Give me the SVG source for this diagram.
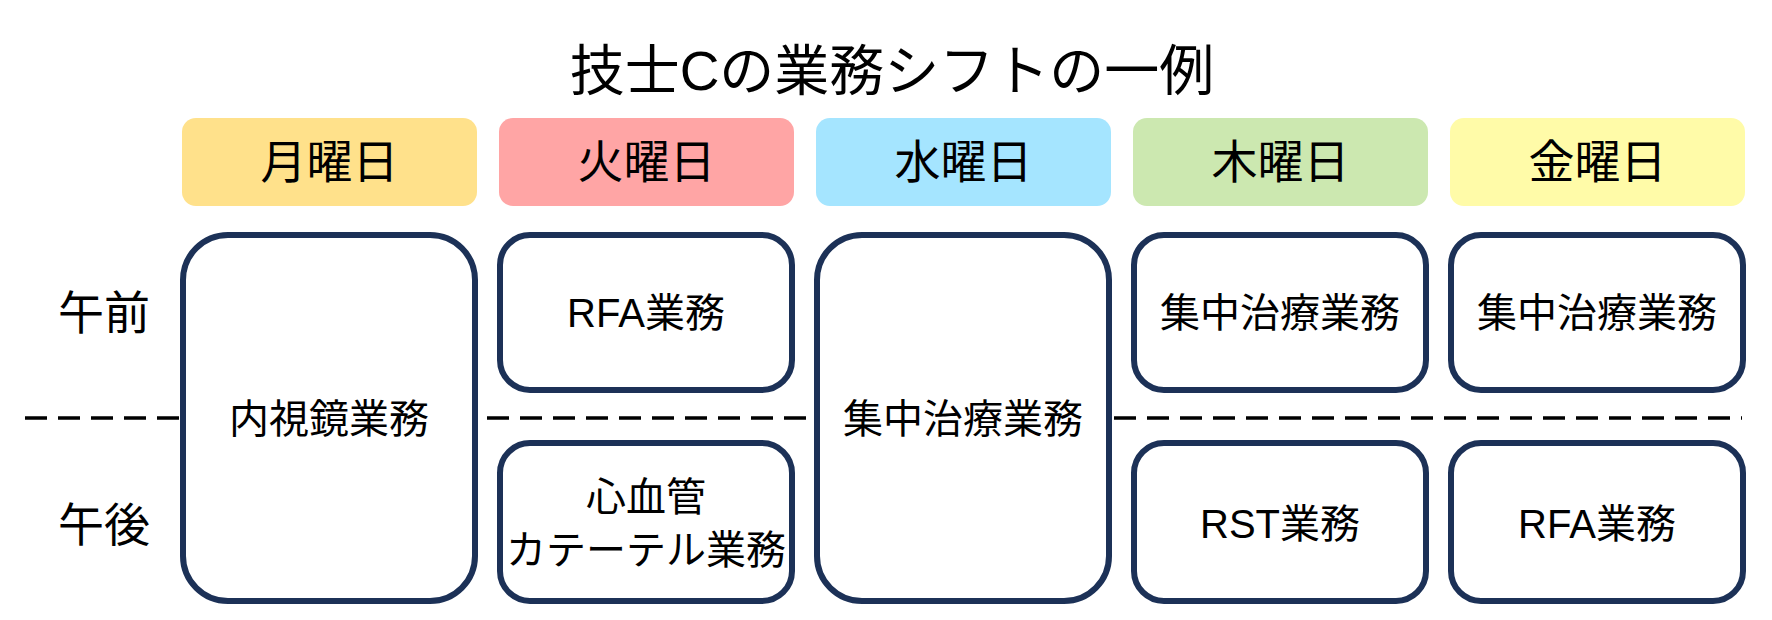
<svg xmlns="http://www.w3.org/2000/svg" width="1772" height="620" viewBox="0 0 1772 620">
<style>
text{font-family:"Liberation Sans","Noto Sans CJK JP",sans-serif;fill:#000;text-anchor:middle;dominant-baseline:central}
.title{font-size:55px}
.hd{font-size:46px}
.side{font-size:46px}
.nt{font-size:40px}
.hdr{stroke:none}
.box{fill:#fff;stroke:#1c3157;stroke-width:6}
.sep{stroke:#000;stroke-width:3.5;stroke-dasharray:22 11;fill:none}
</style>
<rect width="1772" height="620" fill="#fff"/>
<text class="title" x="892" y="71">技士Cの業務シフトの一例</text>
<g id="headers">
<g id="h-mon"><rect class="hdr" x="182" y="118" width="295" height="88" rx="14" fill="#FFE18B"/><text class="hd" x="329.5" y="162">月曜日</text></g>
<g id="h-tue"><rect class="hdr" x="499" y="118" width="295" height="88" rx="14" fill="#FFA5A5"/><text class="hd" x="646.5" y="162">火曜日</text></g>
<g id="h-wed"><rect class="hdr" x="816" y="118" width="295" height="88" rx="14" fill="#A5E5FF"/><text class="hd" x="963.5" y="162">水曜日</text></g>
<g id="h-thu"><rect class="hdr" x="1133" y="118" width="295" height="88" rx="14" fill="#CCE8B0"/><text class="hd" x="1280.5" y="162">木曜日</text></g>
<g id="h-fri"><rect class="hdr" x="1450" y="118" width="295" height="88" rx="14" fill="#FFFBA8"/><text class="hd" x="1597.5" y="162">金曜日</text></g>
</g>
<g id="side-labels">
<text class="side" x="104" y="313">午前</text>
<text class="side" x="104" y="525">午後</text>
</g>
<g id="connectors">
<line class="sep" x1="25" y1="418" x2="1742" y2="418"/>
</g>
<g id="mon"><rect class="box" x="183" y="235" width="292" height="366" rx="45"/><text class="nt" x="329" y="419">内視鏡業務</text></g>
<g id="tue-am"><rect class="box" x="500" y="235" width="292" height="155" rx="30"/><text class="nt" x="646" y="313">RFA業務</text></g>
<g id="tue-pm"><rect class="box" x="500" y="443" width="292" height="158" rx="30"/><text class="nt" x="646" y="497">心血管</text><text class="nt" x="646" y="550">カテーテル業務</text></g>
<g id="wed"><rect class="box" x="817" y="235" width="292" height="366" rx="45"/><text class="nt" x="963" y="419">集中治療業務</text></g>
<g id="thu-am"><rect class="box" x="1134" y="235" width="292" height="155" rx="30"/><text class="nt" x="1280" y="313">集中治療業務</text></g>
<g id="thu-pm"><rect class="box" x="1134" y="443" width="292" height="158" rx="30"/><text class="nt" x="1280" y="524">RST業務</text></g>
<g id="fri-am"><rect class="box" x="1451" y="235" width="292" height="155" rx="30"/><text class="nt" x="1597" y="313">集中治療業務</text></g>
<g id="fri-pm"><rect class="box" x="1451" y="443" width="292" height="158" rx="30"/><text class="nt" x="1597" y="524">RFA業務</text></g>
</svg>
